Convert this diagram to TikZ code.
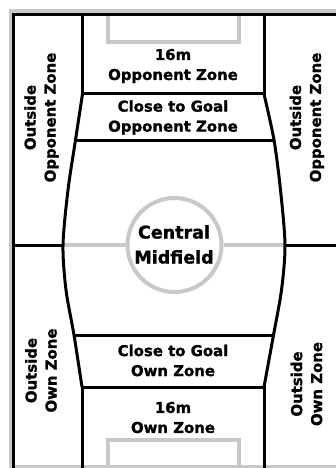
\documentclass[tikz,border=0pt]{standalone}
\usepackage{fontspec}
\setmainfont{DejaVu Sans}[BoldFeatures={FakeBold=1.3}]
\definecolor{pitchgray}{RGB}{200,200,200}
\begin{document}
\begin{tikzpicture}[x=1pt,y=-1pt,
  blk/.style={line width=3pt,black,line join=miter},
  gry/.style={line width=4pt,pitchgray},
  lbl/.style={font=\bfseries\fontsize{14.9}{20}\selectfont,align=center,inner sep=0pt},
  big/.style={font=\bfseries\fontsize{17.5}{25}\selectfont,align=center,inner sep=0pt},
]
\useasboundingbox (0,0) rectangle (336,468);
\fill[white] (0,0) rectangle (336,468);
\begin{scope}
\clip (0,0) rectangle (336,468);
% outer gray frame
\draw[line width=3.5pt,pitchgray] (10.5,11) rectangle (360,466.5);
% named coordinates
\coordinate (A1) at (82.5,14.5);
\coordinate (A2) at (82.5,94);
\coordinate (A3) at (264,94);
\coordinate (A4) at (264,14.5);
\coordinate (B1) at (82,387);
\coordinate (B2) at (82,470);
\coordinate (B3) at (264,387);
\coordinate (B4) at (264,470);
\coordinate (L1) at (75.5,140);
\coordinate (L2) at (68,190);
\coordinate (L3) at (63,245);
\coordinate (L4) at (66,290);
\coordinate (L5) at (74,335);
\coordinate (R1) at (274,140);
\coordinate (R2) at (280.5,190);
\coordinate (R3) at (285,245);
\coordinate (R4) at (281.5,290);
\coordinate (R5) at (273.5,335);
\coordinate (EL) at (13.5,245);
\coordinate (ER) at (345,245);
\coordinate (TL) at (13.5,14.5);
\coordinate (TR) at (345,14.5);
\coordinate (BL) at (13.5,475);
% gray pitch markings
\draw[gry] (108,14.5) -- (108,42) -- (238.5,42) -- (238.5,14.5);
\draw[gry] (108,475) -- (108,440) -- (238.5,440) -- (238.5,475);
\node[draw=pitchgray,line width=4pt,circle,minimum size=94pt,inner sep=0pt] (cc) at (174.5,245) {};
\draw[gry] (L3) -- (cc.west);
\draw[gry] (cc.east) -- (R3);
% black zone lines
\draw[blk] (TR) -- (TL) -- (BL);
\draw[blk] (A1) -- (A2) -- (A3) -- (A4);
\draw[blk] (B2) -- (B1) -- (B3) -- (B4);
\draw[blk] plot[smooth] coordinates {(A2) (L1) (L2) (L3) (L4) (L5) (B1)};
\draw[blk] plot[smooth] coordinates {(A3) (R1) (R2) (R3) (R4) (R5) (B3)};
\draw[blk] (L1) -- (R1);
\draw[blk] (L5) -- (R5);
\draw[blk] (EL) -- (L3);
\draw[blk] (R3) -- (ER);
\end{scope}
% labels
\node[lbl] (t16) at (173,66) {16m\\Opponent Zone};
\node[lbl] (tcg) at (173,117.5) {Close to Goal\\Opponent Zone};
\node[big] (tmid) at (174,244.5) {Central\\Midfield};
\node[lbl] (bcg) at (173,360.5) {Close to Goal\\Own Zone};
\node[lbl] (b16) at (173,417.5) {16m\\Own Zone};
\node[lbl,rotate=90] (lo) at (41.5,117.5) {Outside\\Opponent Zone};
\node[lbl,rotate=90] (ro) at (306.8,117.5) {Outside\\Opponent Zone};
\node[lbl,rotate=90] (lw) at (41,370.5) {Outside\\Own Zone};
\node[lbl,rotate=90] (rw) at (306.5,384) {Outside\\Own Zone};
\end{tikzpicture}
\end{document}
